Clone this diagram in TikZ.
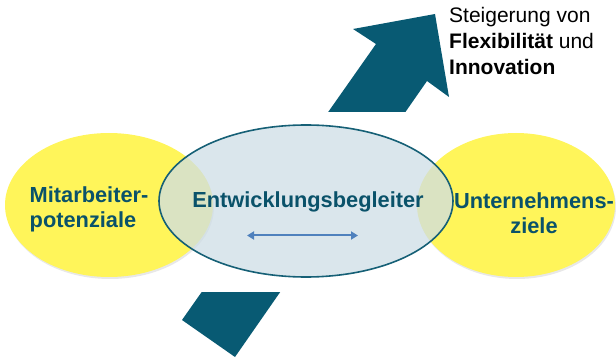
\documentclass[tikz,border=0pt]{standalone}
\usepackage{fontspec}
\setmainfont{Liberation Sans}
\usetikzlibrary{shapes.geometric,shadows,arrows.meta}
\definecolor{arrowteal}{RGB}{8,90,115}
\definecolor{labelteal}{RGB}{10,82,106}
\definecolor{ringteal}{RGB}{22,96,118}
\definecolor{softyellow}{RGB}{255,245,90}
\definecolor{paleblue}{RGB}{206,222,230}
\definecolor{linkblue}{RGB}{79,129,189}
\tikzset{
  yellowell/.style={ellipse, fill=softyellow, draw=none, inner sep=0pt,
    drop shadow={opacity=0.18, shadow xshift=1pt, shadow yshift=-2pt}},
  centerell/.style={ellipse, fill=paleblue, fill opacity=0.75, draw=ringteal,
    line width=1.6pt, inner sep=0pt},
  lbl/.style={text=labelteal, font=\fontsize{21.8}{25}\selectfont\bfseries, inner sep=0pt},
  toptext/.style={text=black, font=\fontsize{21}{26}\selectfont, inner sep=0pt, align=left},
  bigarrow/.style={fill=arrowteal, draw=none},
  linkarrow/.style={draw=linkblue, line width=2pt, {Triangle[length=7pt,width=8pt]}-{Triangle[length=7pt,width=8pt]}}
}
\begin{document}
\begin{tikzpicture}[x=1pt,y=-1pt]
\useasboundingbox (0,0) rectangle (616,358);
% big arrow, visible above and below the white gap
\def\arrowpath{(182,320) -- (235,357) -- (427,81) -- (449,97) -- (435,14) -- (353,29) -- (376,44) -- cycle}
\begin{scope}
  \clip (0,0) rectangle (616,112);
  \fill[bigarrow] \arrowpath;
\end{scope}
\begin{scope}
  \clip (0,292) rectangle (616,358);
  \fill[bigarrow] \arrowpath;
\end{scope}
% ellipses
\node[yellowell, minimum width=208, minimum height=144] (left) at (109,205) {};
\node[yellowell, minimum width=198, minimum height=144] (right) at (516,205) {};
\node[centerell, minimum width=294, minimum height=152] (center) at (306,201) {};
% labels
\node[lbl, align=left, anchor=west] (ma) at (29.5,209) {Mitarbeiter-\\potenziale};
\node[lbl, align=center] (un) at (534,213) {Unternehmens-\\ziele};
\node[lbl, anchor=base] (eb) at (308,207.5) {Entwicklungsbegleiter};
% double arrow
\coordinate (la) at (247,235.5);
\coordinate (ra) at (358,235.5);
\draw[linkarrow] (la) -- (ra);
% top text
\node[toptext, anchor=north west] (st) at (449,7.5) {Steigerung von\\\textbf{Flexibilität} und\\\textbf{Innovation}};
\end{tikzpicture}
\end{document}
